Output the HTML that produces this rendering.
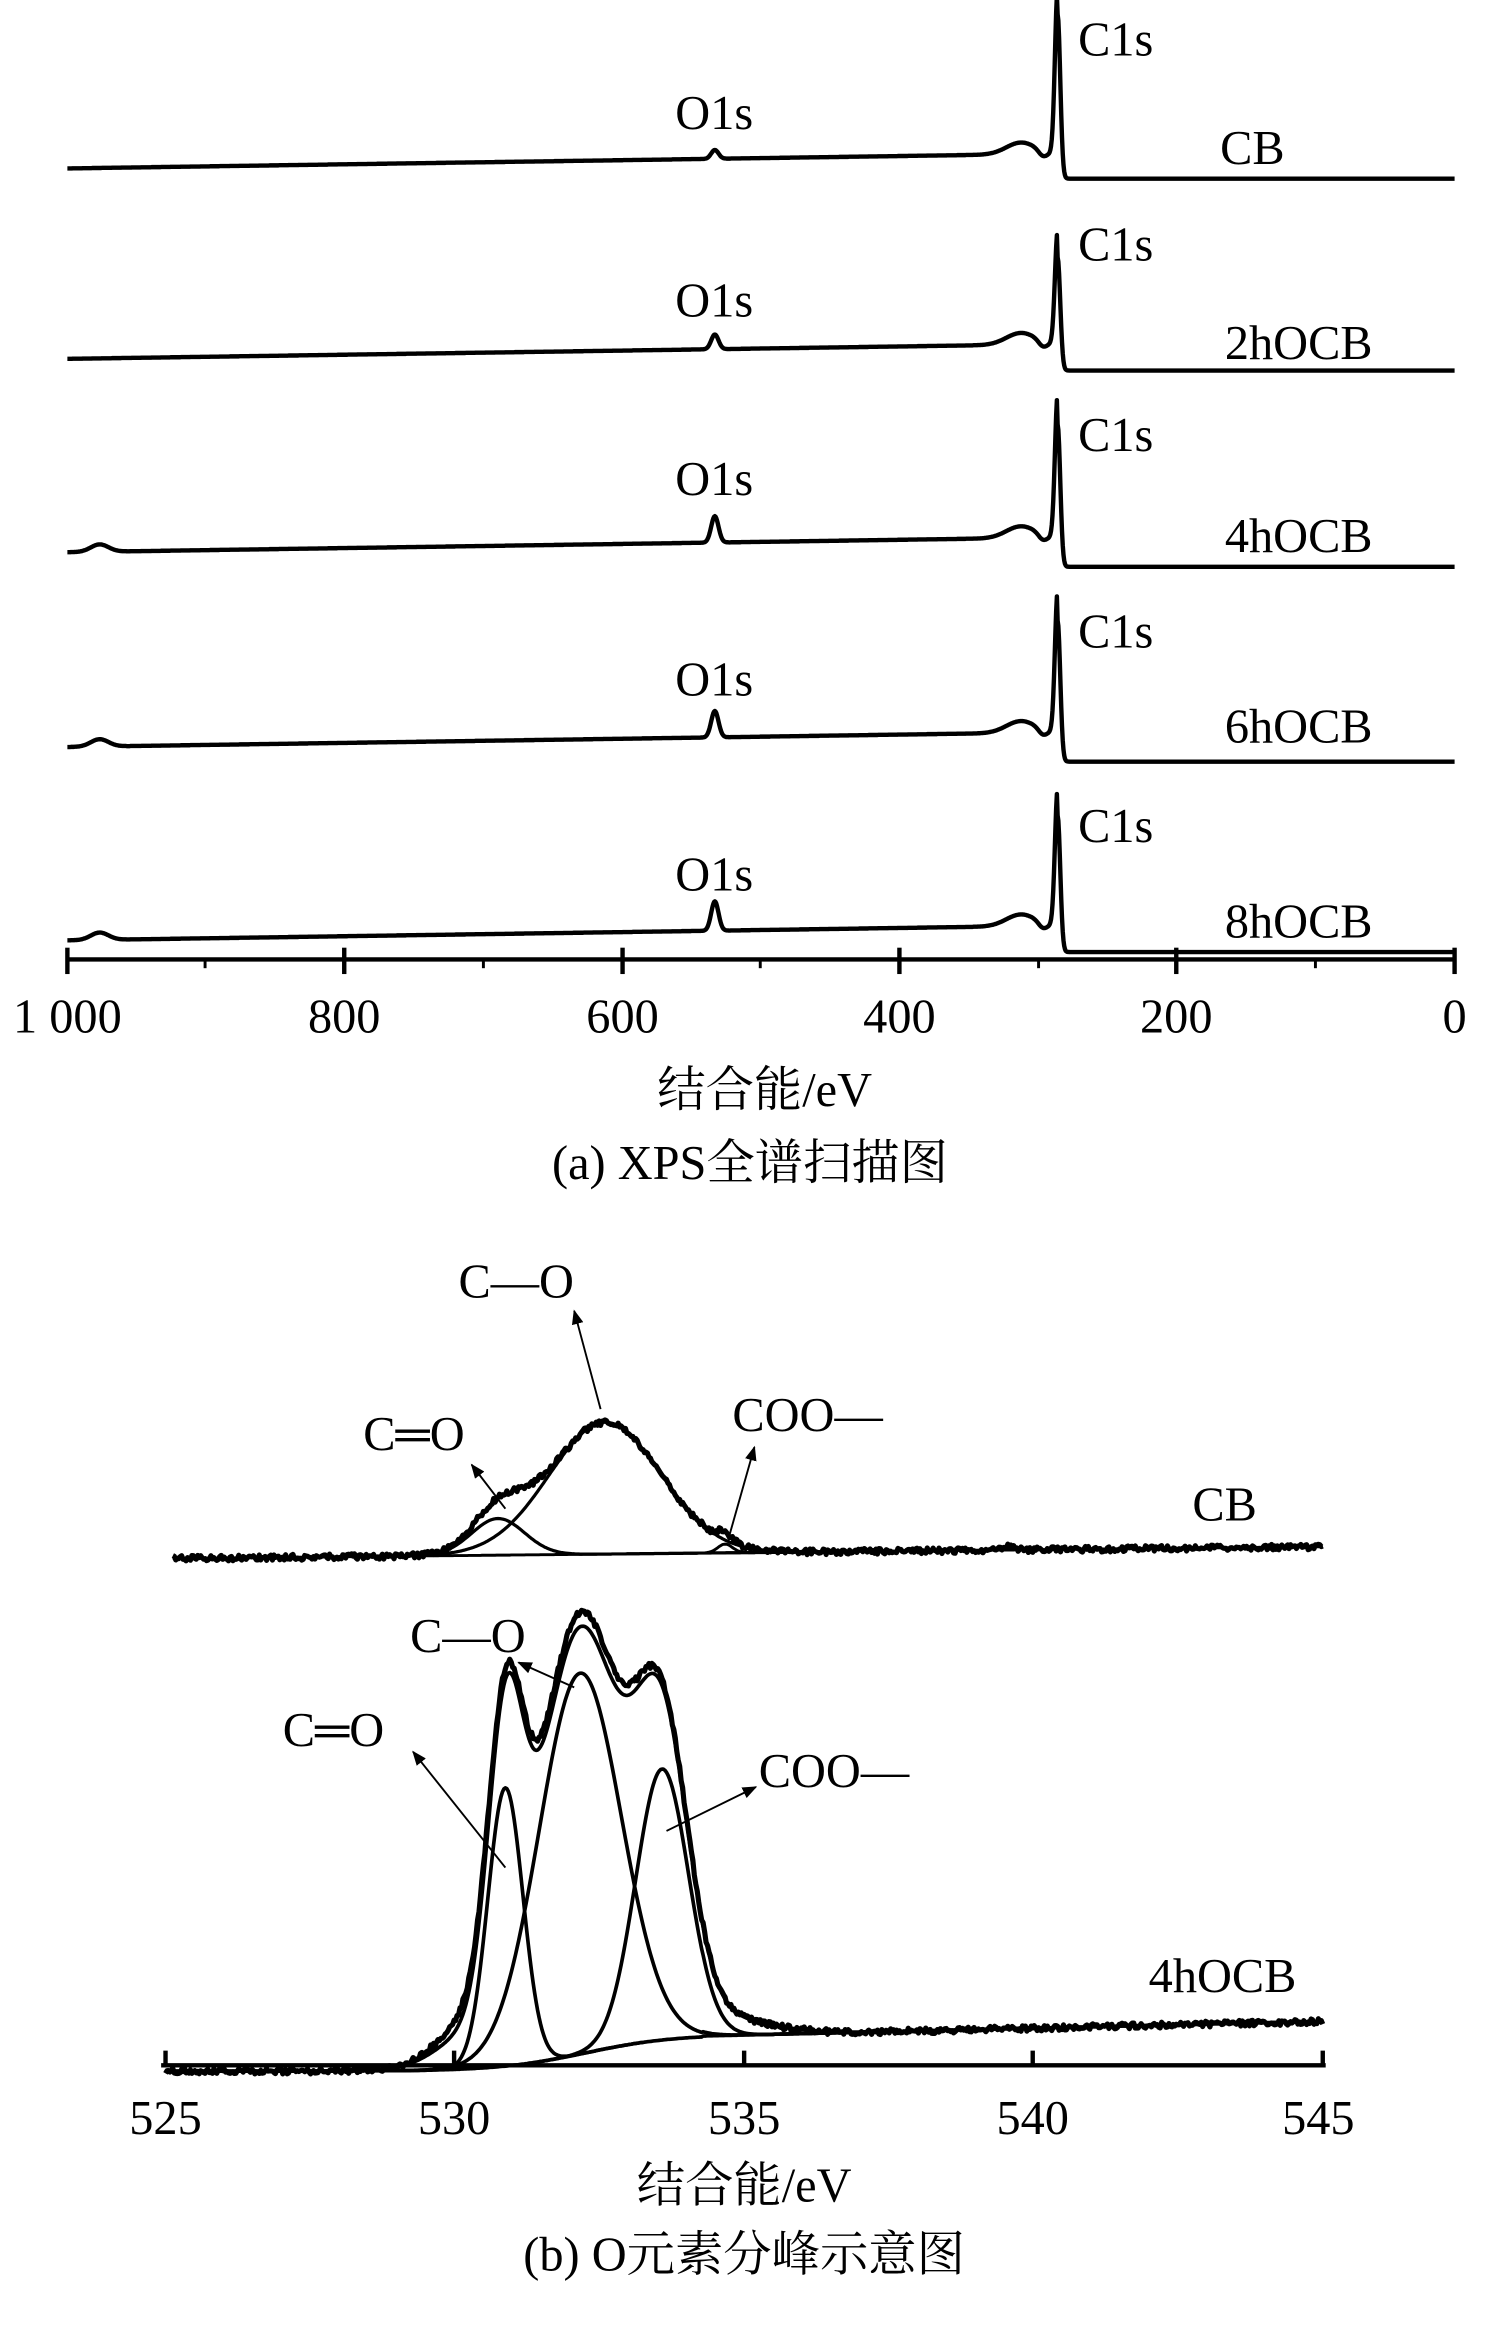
<!DOCTYPE html>
<html><head><meta charset="utf-8"><style>html,body{margin:0;padding:0;background:#fff}svg{display:block}</style></head>
<body>
<svg id="s" xmlns="http://www.w3.org/2000/svg" width="1500" height="2326" viewBox="0 0 1024 1588" preserveAspectRatio="none" font-family="Liberation Serif, Noto Serif CJK SC, serif" font-size="33" fill="#000">
<defs><marker id="ar" markerWidth="10" markerHeight="8" refX="9" refY="4" orient="auto" markerUnits="userSpaceOnUse"><path d="M0,0 L10,4 L0,8 z" fill="#000"/></marker></defs>
<g id="curves" fill="none" stroke="#000" stroke-linejoin="round"></g>
<g stroke="#000" stroke-width="3">
<line x1="46" y1="655" x2="994" y2="655"/>
<line x1="46" y1="647" x2="46" y2="665"/><line x1="235" y1="647" x2="235" y2="665"/><line x1="425" y1="647" x2="425" y2="665"/><line x1="614" y1="647" x2="614" y2="665"/><line x1="803" y1="647" x2="803" y2="665"/><line x1="993" y1="647" x2="993" y2="665"/>
<line x1="140" y1="655" x2="140" y2="661" stroke-width="2"/><line x1="330" y1="655" x2="330" y2="661" stroke-width="2"/><line x1="519" y1="655" x2="519" y2="661" stroke-width="2"/><line x1="709" y1="655" x2="709" y2="661" stroke-width="2"/><line x1="898" y1="655" x2="898" y2="661" stroke-width="2"/>
</g>
<g text-anchor="middle">
<text x="46" y="705">1 000</text><text x="235" y="705">800</text><text x="425" y="705">600</text><text x="614" y="705">400</text><text x="803" y="705">200</text><text x="993" y="705">0</text>
<text x="522" y="755">结合能/eV</text>
<text x="512" y="805">(a) XPS全谱扫描图</text>
</g>
<g>
<text x="736" y="38">C1s</text><text x="736" y="178">C1s</text><text x="736" y="308">C1s</text><text x="736" y="442">C1s</text><text x="736" y="575">C1s</text>
<text x="461" y="88">O1s</text><text x="461" y="216">O1s</text><text x="461" y="338">O1s</text><text x="461" y="475">O1s</text><text x="461" y="608">O1s</text>
</g>
<g text-anchor="end">
<text x="877" y="112">CB</text><text x="937" y="245">2hOCB</text><text x="937" y="377">4hOCB</text><text x="937" y="507">6hOCB</text><text x="937" y="640">8hOCB</text>
</g>
<g stroke="#000" stroke-width="3">
<line x1="110" y1="1410" x2="905" y2="1410"/>
<line x1="113" y1="1400" x2="113" y2="1410"/><line x1="310" y1="1400" x2="310" y2="1410"/><line x1="508" y1="1400" x2="508" y2="1410"/><line x1="705" y1="1400" x2="705" y2="1410"/><line x1="903" y1="1400" x2="903" y2="1410"/>
</g>
<g text-anchor="middle">
<text x="113" y="1457">525</text><text x="310" y="1457">530</text><text x="508" y="1457">535</text><text x="705" y="1457">540</text><text x="900" y="1457">545</text>
<text x="508" y="1503">结合能/eV</text>
<text x="508" y="1550">(b) O元素分峰示意图</text>
</g>
<g>
<text x="313" y="886">C—O</text><text x="248" y="990">C═O</text><text x="500" y="977">COO—</text><text x="858" y="1038" text-anchor="end">CB</text>
<text x="280" y="1128">C—O</text><text x="193" y="1192">C═O</text><text x="518" y="1220">COO—</text><text x="885" y="1360" text-anchor="end">4hOCB</text>
</g>
<g stroke="#000" stroke-width="1.3" marker-end="url(#ar)">
<line x1="410" y1="962" x2="392" y2="895"/>
<line x1="345" y1="1030" x2="322" y2="1000"/>
<line x1="498" y1="1048" x2="515" y2="988"/>
<line x1="392" y1="1152" x2="354" y2="1135"/>
<line x1="345" y1="1275" x2="282" y2="1196"/>
<line x1="455" y1="1250" x2="516" y2="1220"/>
</g>
</svg>
<script>
var g=document.getElementById('curves');
function add(d,w){var p=document.createElementNS('http://www.w3.org/2000/svg','path');p.setAttribute('d',d);p.setAttribute('stroke-width',w);g.appendChild(p);}
function G(x,c,s){return Math.exp(-(x-c)*(x-c)/(2*s*s));}
var seed=1;function rnd(){seed=(seed*16807)%2147483647;return seed/2147483647-0.5;}
var tr=[[115,122,112,6,false],[245,253,77,10,false],[377,387,97,18,true],[510,520,96,18,true],[642,650,93,20,true]];
tr.forEach(function(t){var L=t[0],R=t[1],H=t[2],O=t[3],b=t[4];var d='';
for(var x=46;x<=993;x+=0.5){var base=(x<722)?L-12*(x-46)/(690-46)*0.8:R;
var y=base-8*G(x,697,10)+4*G(x,712,3)-H*G(x,722,1.8)-O*G(x,488,2.5)-(b?5*G(x,68,6):0);
if(x>724&&x<730)y=Math.min(y,R);
d+=(d?'L':'M')+x.toFixed(1)+','+y.toFixed(1);}
add(d,3);});
(function(){var d='',c1='',c2='',c3='',bg='';
for(var x=118;x<=903;x+=1){var b=1064-8*(x-118)/785;
var a=25*G(x,340,18),c=90*G(x,413,38),e=6*G(x,495,5);
var y=b-a-c-e+rnd()*4+(x>680&&x<700?-3*G(x,688,3):0);
d+=(d?'L':'M')+x+','+y.toFixed(1);
if(x>250&&x<580){c1+=(c1?'L':'M')+x+','+(b-a).toFixed(1);c2+=(c2?'L':'M')+x+','+(b-c).toFixed(1);}
if(x>470&&x<530)c3+=(c3?'L':'M')+x+','+(b-e).toFixed(1);
bg+=(bg?'L':'M')+x+','+b.toFixed(1);}
add(d,3.5);add(c1,2.2);add(c2,2.2);add(c3,2);add(bg,2);})();
(function(){var d='',d2='',c1='',c2='',c3='',bg='';
for(var x=113;x<=903;x+=1){var b=x<480?1414-25*(1/(1+Math.exp(-(x-400)/30))):1390-10*(x-480)/423;
var a=190*G(x,345,12),c=260*G(x,396,28),e=185*G(x,452,18);
var y=b-a-c-e-40*G(x,400,45)-10*G(x,490,35)-25*G(x,320,22);
d+=(d?'L':'M')+x+','+(y+rnd()*4).toFixed(1);
d2+=(d2?'L':'M')+x+','+(y+10*G(x,400,40)+8*G(x,320,20)).toFixed(1);
if(x>260&&x<440)c1+=(c1?'L':'M')+x+','+(b-a).toFixed(1);
if(x>270&&x<540)c2+=(c2?'L':'M')+x+','+(b-c).toFixed(1);
if(x>360&&x<580)c3+=(c3?'L':'M')+x+','+(b-e).toFixed(1);
bg+=(bg?'L':'M')+x+','+b.toFixed(1);}
add(d,3.5);add(d2,2.5);add(c1,2.5);add(c2,2.5);add(c3,2.5);add(bg,2.5);})();
</script>
</body></html>
